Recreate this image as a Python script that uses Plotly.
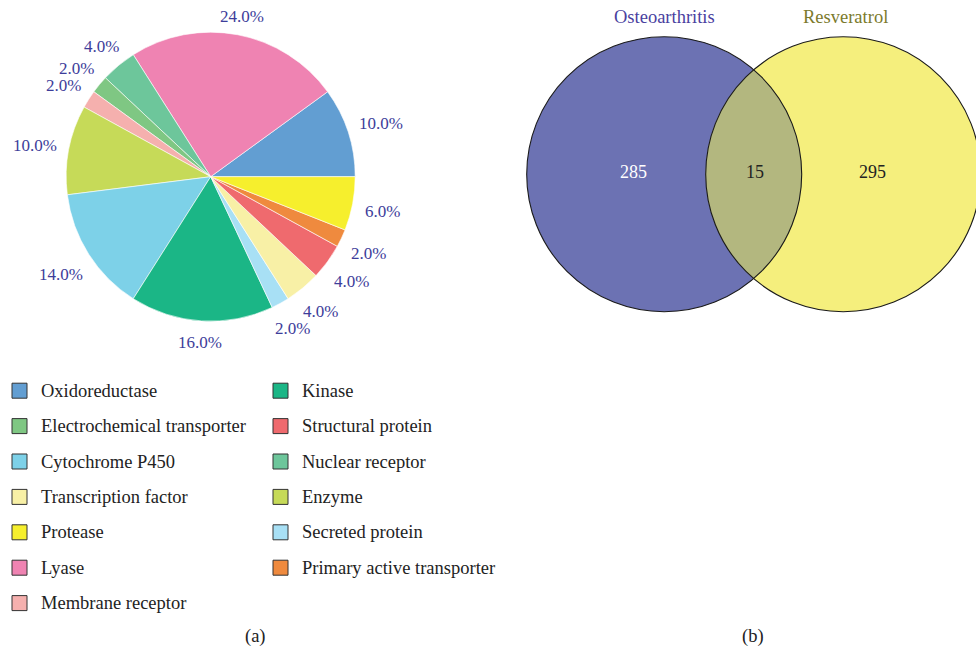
import numpy as np
import plotly.graph_objects as go

# ---- (a) target classes ----
categories = ["Oxidoreductase", "Lyase", "Nuclear receptor", "Electrochemical transporter",
              "Membrane receptor", "Enzyme", "Cytochrome P450", "Kinase", "Secreted protein",
              "Transcription factor", "Structural protein", "Primary active transporter", "Protease"]
shares = [10.0, 24.0, 4.0, 2.0, 2.0, 10.0, 14.0, 16.0, 2.0, 4.0, 4.0, 2.0, 6.0]
colors = ["#629ed2", "#ef83b2", "#6dc69b", "#7fc783", "#f5b0ae", "#c6da58", "#7dd1e8",
          "#1bb686", "#a8e0f5", "#f8f0a6", "#ef6a6e", "#ef8a3e", "#f6ef2d"]

legend_col1 = ["Oxidoreductase", "Electrochemical transporter", "Cytochrome P450",
               "Transcription factor", "Protease", "Lyase", "Membrane receptor"]
legend_col2 = ["Kinase", "Structural protein", "Nuclear receptor", "Enzyme",
               "Secreted protein", "Primary active transporter"]

# ---- (b) Venn counts ----
set_names = ["Osteoarthritis", "Resveratrol"]
venn_counts = [285, 15, 295]  # only A, A∩B, only B

W, H = 976, 652
FONT = "Liberation Serif"
LABEL_BLUE = "#3d3d9a"

fig = go.Figure()

# pie geometry (pixels); first slice starts at 3 o'clock and runs counterclockwise
pcx, pcy, pr = 210.7, 176.7, 144.5
start_deg = 0.0
fig.add_trace(go.Pie(
    labels=categories, values=shares, sort=False, direction="counterclockwise",
    rotation=90 - start_deg - shares[0] * 3.6,
    marker=dict(colors=colors, line=dict(color="white", width=0.6)),
    textinfo="none", showlegend=False, hoverinfo="label+percent",
    domain=dict(x=[(pcx - pr) / W, (pcx + pr) / W], y=[1 - (pcy + pr) / H, 1 - (pcy - pr) / H]),
))

# pixel-space axes for the percentage labels, the Venn diagram and the legend
fig.update_layout(
    xaxis=dict(range=[0, W], domain=[0, 1], visible=False, fixedrange=True),
    yaxis=dict(range=[H, 0], domain=[0, 1], visible=False, fixedrange=True),
)
fig.add_trace(go.Scatter(x=[0, W], y=[0, H], mode="markers", marker=dict(opacity=0),
                         hoverinfo="skip", showlegend=False))

shapes = []
annotations = []

# percentage labels just outside each slice
PCT_SIZE = 17
total = sum(shares)
char_w = {".": 0.25, "%": 0.833}
cum = 0.0
for v in shares:
    mid = np.deg2rad(start_deg + (cum + v / 2) / total * 360)
    cum += v
    txt = f"{v / total * 100:.1f}%"
    tw = sum(char_w.get(c, 0.5) for c in txt) * PCT_SIZE
    th = 0.72 * PCT_SIZE
    ext = tw / 2 * abs(np.cos(mid)) + th / 2 * abs(np.sin(mid))
    dist = pr + 11.5 + ext
    annotations.append(dict(x=pcx + dist * np.cos(mid), y=pcy - dist * np.sin(mid) + 2.5,
                            xref="x", yref="y", text=txt, showarrow=False,
                            xanchor="center", yanchor="middle",
                            font=dict(family=FONT, size=PCT_SIZE, color=LABEL_BLUE)))

# Venn circles
vr = 137.5
vcy = 174.2
vcx = [664.2, 843.2]
venn_fill = ["#6c72b3", "#f5ef7d"]
for cx, fc in zip(vcx, venn_fill):
    shapes.append(dict(type="circle", xref="x", yref="y", x0=cx - vr, x1=cx + vr,
                       y0=vcy - vr, y1=vcy + vr, fillcolor=fc, line=dict(width=0), layer="above"))

# lens (intersection region)
d = vcx[1] - vcx[0]
h_ang = np.arccos((d / 2) / vr)
t1 = np.linspace(-h_ang, h_ang, 80)                 # right arc of the left circle
t2 = np.linspace(np.pi - h_ang, np.pi + h_ang, 80)  # left arc of the right circle
xs = np.concatenate([vcx[0] + vr * np.cos(t1), vcx[1] + vr * np.cos(t2)])
ys = np.concatenate([vcy + vr * np.sin(t1), vcy + vr * np.sin(t2)])
path = "M " + " L ".join(f"{x:.2f},{y:.2f}" for x, y in zip(xs, ys)) + " Z"
shapes.append(dict(type="path", xref="x", yref="y", path=path, fillcolor="#b3b77f",
                   line=dict(width=0), layer="above"))
for cx in vcx:
    shapes.append(dict(type="circle", xref="x", yref="y", x0=cx - vr, x1=cx + vr,
                       y0=vcy - vr, y1=vcy + vr, fillcolor="rgba(0,0,0,0)",
                       line=dict(color="#1a1a1a", width=1.1), layer="above"))

# Venn text
for name, x, col in zip(set_names, [664, 845], ["#4a3fa0", "#7b7a2c"]):
    annotations.append(dict(x=x, y=17, xref="x", yref="y", text=name, showarrow=False,
                            font=dict(family=FONT, size=18.5, color=col)))
for n, x, col in zip(venn_counts, [633, 755, 872], ["#ffffff", "#222222", "#222222"]):
    annotations.append(dict(x=x, y=171.5, xref="x", yref="y", text=str(n), showarrow=False,
                            font=dict(family=FONT, size=18, color=col)))

# legend for (a)
color_of = dict(zip(categories, colors))
row_y0, row_dy = 390.7, 35.4
for col_items, sx, tx in [(legend_col1, 12, 38.5), (legend_col2, 273, 299.5)]:
    for i, name in enumerate(col_items):
        y = row_y0 + i * row_dy
        shapes.append(dict(type="rect", xref="x", yref="y", x0=sx, x1=sx + 15,
                           y0=y - 7.5, y1=y + 7.5, fillcolor=color_of[name],
                           line=dict(color="#333333", width=1), layer="above"))
        annotations.append(dict(x=tx, y=y, xref="x", yref="y", text=name, showarrow=False,
                                xanchor="left", yanchor="middle",
                                font=dict(family=FONT, size=18.5, color="#222222")))

# panel captions
for t, x in [("(a)", 255), ("(b)", 753)]:
    annotations.append(dict(x=x, y=636, xref="x", yref="y", text=t, showarrow=False,
                            font=dict(family=FONT, size=18.5, color="#222222")))

fig.update_layout(
    width=W, height=H, margin=dict(l=0, r=0, t=0, b=0),
    paper_bgcolor="white", plot_bgcolor="white",
    shapes=shapes, annotations=annotations,
)

fig.write_html("out.html")
